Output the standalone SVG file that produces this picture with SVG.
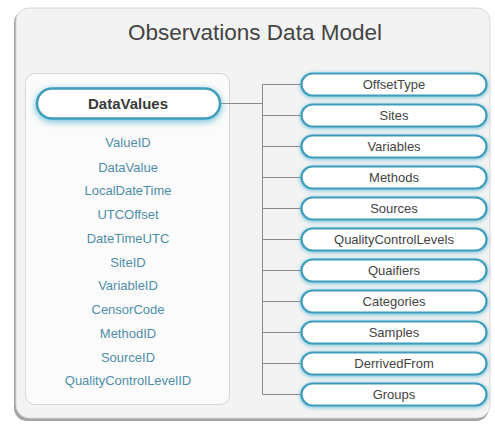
<svg xmlns="http://www.w3.org/2000/svg" width="495" height="432" viewBox="0 0 495 432">
<defs>
<filter id="glow" x="-20%" y="-60%" width="140%" height="220%">
<feDropShadow dx="0" dy="1" stdDeviation="2.2" flood-color="#5ab8d6" flood-opacity="0.9"/>
</filter>
<filter id="glow2" x="-20%" y="-60%" width="140%" height="220%">
<feDropShadow dx="0" dy="2" stdDeviation="3.5" flood-color="#5ab8d6" flood-opacity="0.9"/>
</filter>
</defs>
<style>
.pill{fill:#ffffff;stroke:#3f9dbb;stroke-width:2.2;filter:url(#glow)}
.lbl{font-family:"Liberation Sans",Arial,sans-serif;font-size:13px;fill:#444;text-anchor:middle}
.fld{font-family:"Liberation Sans",Arial,sans-serif;font-size:13px;fill:#4f8ea8;text-anchor:middle}
.conn{stroke:#8a8a8a;stroke-width:1;fill:none}
</style>
<rect width="495" height="432" fill="#ffffff"/>
<g id="panel">
<rect x="14" y="10" width="475" height="411" rx="13" fill="#a4a4a4"/>
<rect x="16" y="8" width="474" height="410" rx="13" fill="#f3f3f3" stroke="#d8d8d8" stroke-width="1"/>
<text x="255" y="40" font-family="'Liberation Sans',Arial,sans-serif" font-size="22.5" fill="#444" text-anchor="middle">Observations Data Model</text>
</g>
<g id="dataValuesPanel">
<rect x="25.5" y="73.5" width="204" height="331" rx="9" fill="#fbfbfb" stroke="#d6d6d6" stroke-width="1"/>
</g>
<g id="connectors">
<path class="conn" d="M220 103.5H262.5M262.5 84.5V394.5"/>
<path class="conn" d="M262.5 84.5H301M262.5 115.5H301M262.5 146.5H301M262.5 177.5H301M262.5 208.5H301M262.5 239.5H301M262.5 270.5H301M262.5 301.5H301M262.5 332.5H301M262.5 363.5H301M262.5 394.5H301"/>
</g>
<g id="DataValues">
<rect x="37" y="88.5" width="183" height="30" rx="15" fill="#fff" stroke="#3f9dbb" stroke-width="2.5" filter="url(#glow2)"/>
<text x="128" y="109" font-family="'Liberation Sans',Arial,sans-serif" font-size="15" font-weight="bold" fill="#3a3a3a" text-anchor="middle">DataValues</text>
<text class="fld" x="128" y="147">ValueID</text>
<text class="fld" x="128" y="172">DataValue</text>
<text class="fld" x="128" y="195">LocalDateTime</text>
<text class="fld" x="128" y="219">UTCOffset</text>
<text class="fld" x="128" y="243">DateTimeUTC</text>
<text class="fld" x="128" y="267">SiteID</text>
<text class="fld" x="128" y="290">VariableID</text>
<text class="fld" x="128" y="314">CensorCode</text>
<text class="fld" x="128" y="338">MethodID</text>
<text class="fld" x="128" y="362">SourceID</text>
<text class="fld" x="128" y="385">QualityControlLevelID</text>
</g>
<g id="OffsetType"><rect class="pill" x="301.5" y="73.5" width="185" height="22" rx="11"/><text class="lbl" x="394" y="89">OffsetType</text></g>
<g id="Sites"><rect class="pill" x="301.5" y="104.5" width="185" height="22" rx="11"/><text class="lbl" x="394" y="120">Sites</text></g>
<g id="Variables"><rect class="pill" x="301.5" y="135.5" width="185" height="22" rx="11"/><text class="lbl" x="394" y="151">Variables</text></g>
<g id="Methods"><rect class="pill" x="301.5" y="166.5" width="185" height="22" rx="11"/><text class="lbl" x="394" y="182">Methods</text></g>
<g id="Sources"><rect class="pill" x="301.5" y="197.5" width="185" height="22" rx="11"/><text class="lbl" x="394" y="213">Sources</text></g>
<g id="QualityControlLevels"><rect class="pill" x="301.5" y="228.5" width="185" height="22" rx="11"/><text class="lbl" x="394" y="244">QualityControlLevels</text></g>
<g id="Quaifiers"><rect class="pill" x="301.5" y="259.5" width="185" height="22" rx="11"/><text class="lbl" x="394" y="275">Quaifiers</text></g>
<g id="Categories"><rect class="pill" x="301.5" y="290.5" width="185" height="22" rx="11"/><text class="lbl" x="394" y="306">Categories</text></g>
<g id="Samples"><rect class="pill" x="301.5" y="321.5" width="185" height="22" rx="11"/><text class="lbl" x="394" y="337">Samples</text></g>
<g id="DerrivedFrom"><rect class="pill" x="301.5" y="352.5" width="185" height="22" rx="11"/><text class="lbl" x="394" y="368">DerrivedFrom</text></g>
<g id="Groups"><rect class="pill" x="301.5" y="383.5" width="185" height="22" rx="11"/><text class="lbl" x="394" y="399">Groups</text></g>
</svg>
